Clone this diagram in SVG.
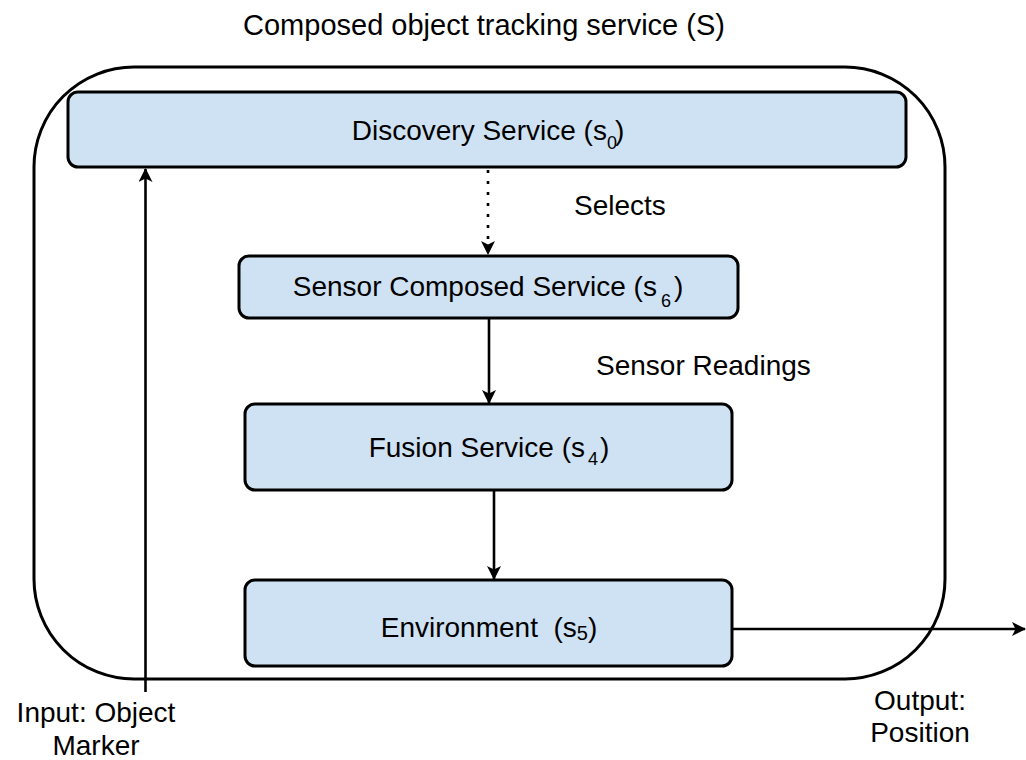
<svg xmlns="http://www.w3.org/2000/svg" width="1026" height="760" viewBox="0 0 1026 760">
<style>
text{font-family:"Liberation Sans",Arial,sans-serif;font-size:28px;fill:#000}
.box{fill:#cfe2f3;stroke:#000;stroke-width:3}
.outer{fill:none;stroke:#000;stroke-width:3}
.line{fill:none;stroke:#000;stroke-width:2.6}
.sub{font-size:18px}
</style>
<defs>
<marker id="arr" viewBox="0 0 14 14" markerWidth="14" markerHeight="14" refX="13" refY="7" orient="auto" markerUnits="userSpaceOnUse">
<path d="M0,0 L14,7 L0,14 L3.5,7 Z" fill="#000"/>
</marker>
</defs>
<rect width="1026" height="760" fill="#fff"/>
<g id="title">
<text x="484" y="35" text-anchor="middle" style="font-size:29px">Composed object tracking service (S)</text>
</g>
<g id="composite">
<rect class="outer" x="34" y="67" width="911" height="612" rx="100" ry="100"/>
</g>
<g id="connectors">
<line class="line" x1="145.5" y1="692" x2="145.5" y2="169" marker-end="url(#arr)"/>
<line class="line" x1="488" y1="170" x2="488" y2="254" stroke-width="3" stroke-dasharray="3 8" marker-end="url(#arr)"/>
<line class="line" x1="489" y1="318" x2="489" y2="403" marker-end="url(#arr)"/>
<line class="line" x1="494" y1="490" x2="494" y2="579" marker-end="url(#arr)"/>
<line class="line" x1="732" y1="629" x2="1025" y2="629" marker-end="url(#arr)"/>
</g>
<g id="discovery">
<rect class="box" x="68" y="92" width="838" height="75" rx="10"/>
<text x="488" y="140" text-anchor="middle">Discovery Service (s<tspan class="sub" dy="9">0</tspan><tspan dx="-2" dy="-9">)</tspan></text>
</g>
<g id="sensor-composed">
<rect class="box" x="239" y="256" width="499" height="62" rx="10"/>
<text x="488" y="296" text-anchor="middle">Sensor Composed Service (s<tspan class="sub" dx="4" dy="11">6</tspan><tspan dx="3" dy="-11">)</tspan></text>
</g>
<g id="fusion">
<rect class="box" x="245" y="404" width="487" height="86" rx="10"/>
<text x="489" y="457" text-anchor="middle">Fusion Service (s<tspan class="sub" dx="3" dy="8">4</tspan><tspan dx="2" dy="-8">)</tspan></text>
</g>
<g id="environment">
<rect class="box" x="245" y="580" width="487" height="86" rx="10"/>
<text x="489" y="637" text-anchor="middle" xml:space="preserve">Environment  (s<tspan style="font-size:20px" dy="3">5</tspan><tspan dy="-3">)</tspan></text>
</g>
<g id="labels">
<text x="574" y="215">Selects</text>
<text x="596" y="375">Sensor Readings</text>
<text x="96" y="722" text-anchor="middle">Input: Object</text>
<text x="96" y="755" text-anchor="middle">Marker</text>
<text x="920" y="710" text-anchor="middle">Output:</text>
<text x="920" y="742" text-anchor="middle">Position</text>
</g>
</svg>
